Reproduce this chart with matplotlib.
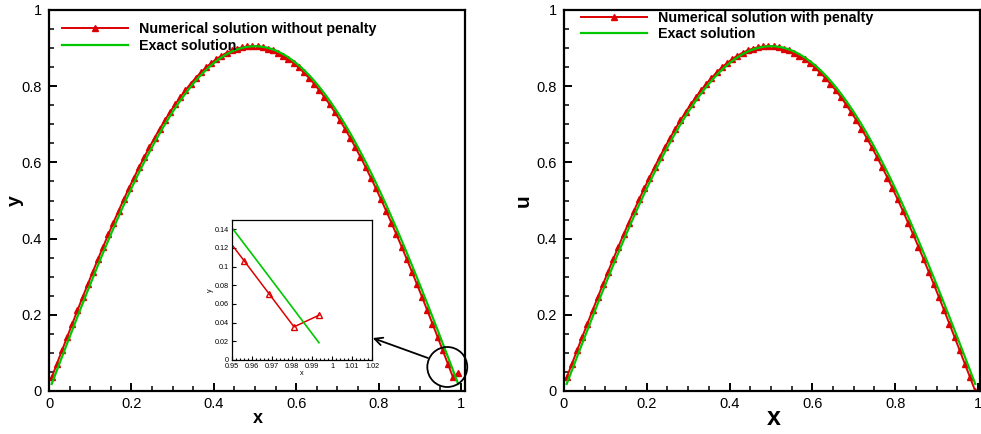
import numpy as np
import matplotlib
matplotlib.use("Agg")
import matplotlib.pyplot as plt
from matplotlib.ticker import MultipleLocator, FuncFormatter
from matplotlib.patches import Ellipse

plt.rcParams["font.family"] = ["Liberation Sans", "DejaVu Sans"]

# solution profile (shared shape, 79 interior samples)
u_profile = [
    0.0355, 0.0710, 0.1064, 0.1416, 0.1766, 0.2113, 0.2457, 0.2797, 0.3132, 0.3463,
    0.3789, 0.4109, 0.4422, 0.4729, 0.5028, 0.5320, 0.5603, 0.5878, 0.6143, 0.6399,
    0.6646, 0.6882, 0.7107, 0.7322, 0.7525, 0.7716, 0.7896, 0.8064, 0.8219, 0.8361,
    0.8491, 0.8607, 0.8710, 0.8800, 0.8876, 0.8939, 0.8987, 0.9022, 0.9043, 0.9050,
    0.9043, 0.9022, 0.8987, 0.8939, 0.8876, 0.8800, 0.8710, 0.8607, 0.8491, 0.8361,
    0.8219, 0.8064, 0.7896, 0.7716, 0.7525, 0.7322, 0.7107, 0.6882, 0.6646, 0.6399,
    0.6143, 0.5878, 0.5603, 0.5320, 0.5028, 0.4729, 0.4422, 0.4109, 0.3789, 0.3463,
    0.3132, 0.2797, 0.2457, 0.2113, 0.1766, 0.1416, 0.1064, 0.0710, 0.0355,
]

# numerical solution: 80 nodes, last node differs between the two runs
x_num = np.linspace(0.0065, 0.9935, 80)
u_no_penalty = u_profile + [0.048]
u_penalty = u_profile + [0.0]

# exact solution
x_exact = [0.0065] + [k / 80 for k in range(1, 80)] + [0.9935]
u_exact = [0.0185] + u_profile + [0.0185]

RED = "#dd0000"
GREEN = "#00c800"
W, H = 981, 434

fmt = FuncFormatter(lambda v, p: "%g" % round(v, 4))


def style(ax, xmax):
    ax.set_xlim(0, xmax)
    ax.set_ylim(0, 1)
    ax.xaxis.set_major_locator(MultipleLocator(0.2))
    ax.xaxis.set_minor_locator(MultipleLocator(0.05))
    ax.yaxis.set_major_locator(MultipleLocator(0.2))
    ax.yaxis.set_minor_locator(MultipleLocator(0.05))
    ax.xaxis.set_major_formatter(fmt)
    ax.yaxis.set_major_formatter(fmt)
    ax.tick_params(which="both", direction="in", top=False, right=False, labelsize=10.5)
    ax.tick_params(which="major", length=6, width=1.4)
    ax.tick_params(which="minor", length=3.5, width=1.1)
    ax.tick_params(axis="y", pad=5)
    ax.tick_params(axis="x", pad=4)
    for s in ax.spines.values():
        s.set_linewidth(1.6)


def draw(ax, u_num, label):
    ax.plot(x_num, u_num, color=RED, lw=1.4, marker="^", ms=4.5, mfc=RED, mec=RED,
            label=label)
    ax.plot(x_exact, u_exact, color=GREEN, lw=1.6, label="Exact solution")


fig = plt.figure(figsize=(W / 100, H / 100), dpi=100)

# ---- left panel
ax1 = fig.add_axes([49 / W, 43 / H, 416 / W, 381 / H])
draw(ax1, u_no_penalty, "Numerical solution without penalty")
style(ax1, 1.01)
ax1.set_xlabel("x", fontsize=13, fontweight="bold")
ax1.set_ylabel("y", fontsize=14, fontweight="bold")
ax1.xaxis.label.set_va("center")
ax1.yaxis.label.set_va("center")
ax1.xaxis.set_label_coords(0.502, -0.071)
ax1.yaxis.set_label_coords(-0.082, 0.5)
ax1.legend(loc="upper left", bbox_to_anchor=(0.031, 0.968), frameon=False,
           borderpad=0, borderaxespad=0, handlelength=4.6, handletextpad=0.8,
           labelspacing=0.18, numpoints=1,
           prop={"size": 10.3, "weight": "bold"})

# zoom circle + arrow
ax1.add_patch(Ellipse((0.967, 0.063), 0.097, 0.105, fill=False, ec="k", lw=1.3,
                      clip_on=False, zorder=5))
ax1.annotate("", xy=(0.786, 0.139), xytext=(0.920, 0.0866),
             arrowprops=dict(arrowstyle="->", color="k", lw=1.3, mutation_scale=14,
                             shrinkA=0, shrinkB=0))

# inset
axi = fig.add_axes([232 / W, 74 / H, 140 / W, 140 / H])
axi.plot(x_num, u_no_penalty, color=RED, lw=1.1, marker="^", ms=3.8, mfc="none",
         mec=RED, mew=1.0)
axi.plot(x_exact, u_exact, color=GREEN, lw=1.2)
axi.set_xlim(0.95, 1.02)
axi.set_ylim(0, 0.15)
axi.xaxis.set_major_locator(MultipleLocator(0.01))
axi.xaxis.set_minor_locator(MultipleLocator(0.002))
axi.yaxis.set_major_locator(MultipleLocator(0.02))
axi.xaxis.set_major_formatter(fmt)
axi.yaxis.set_major_formatter(fmt)
axi.tick_params(which="both", direction="in", top=False, right=False, labelsize=5.2,
                width=0.8, pad=2)
axi.tick_params(which="major", length=3)
axi.tick_params(which="minor", length=1.8)
for s in axi.spines.values():
    s.set_linewidth(0.9)
axi.set_xlabel("x", fontsize=5.2, labelpad=0)
axi.set_ylabel("y", fontsize=5.2, labelpad=1)

# ---- right panel
ax2 = fig.add_axes([564 / W, 43 / H, 416 / W, 381 / H])
draw(ax2, u_penalty, "Numerical solution with penalty")
style(ax2, 1.005)
ax2.set_xlabel("x", fontsize=18, fontweight="bold")
ax2.set_ylabel("u", fontsize=15, fontweight="bold")
ax2.xaxis.label.set_va("center")
ax2.yaxis.label.set_va("center")
ax2.xaxis.set_label_coords(0.505, -0.071)
ax2.yaxis.set_label_coords(-0.099, 0.5)
ax2.legend(loc="upper left", bbox_to_anchor=(0.041, 0.998), frameon=False,
           borderpad=0, borderaxespad=0, handlelength=4.6, handletextpad=0.8,
           labelspacing=0.18, numpoints=1,
           prop={"size": 10.3, "weight": "bold"})

fig.savefig("out.png", dpi=100)
